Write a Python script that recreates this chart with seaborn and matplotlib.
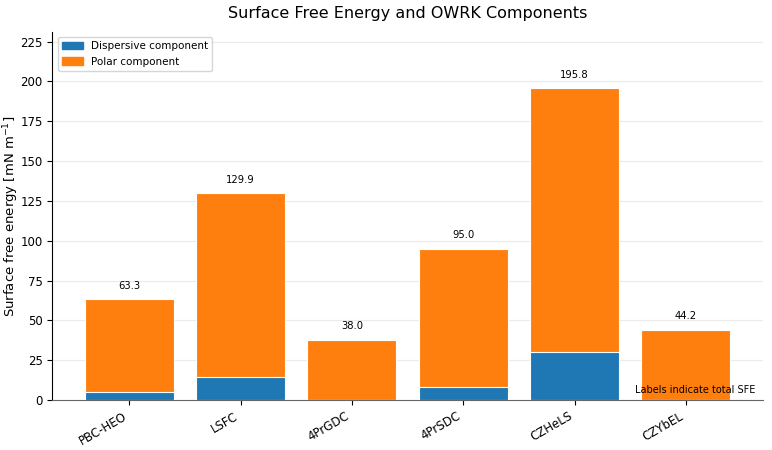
import matplotlib; matplotlib.use("Agg")
import numpy as np
import pandas as pd
import matplotlib.pyplot as plt
import seaborn as sns
from matplotlib.patches import Patch

materials = ["PBC-HEO", "LSFC", "4PrGDC", "4PrSDC", "CZHeLS", "CZYbEL"]
dispersive = [5.3, 14.3, 0.2, 8.5, 30.2, 0.2]
total = [63.3, 129.9, 38.0, 95.0, 195.8, 44.2]

df = pd.DataFrame({"material": materials, "dispersive": dispersive, "total": total})

fig, ax = plt.subplots(figsize=(7.72, 4.5), dpi=100)
blue, orange = "#1f77b4", "#ff7f0e"

# total bar (orange) underneath, dispersive (blue) over its base -> stacked look
sns.barplot(data=df, x="material", y="total", color=orange, saturation=1,
            width=0.8, edgecolor="white", linewidth=0.8, ax=ax, zorder=2)
sns.barplot(data=df, x="material", y="dispersive", color=blue, saturation=1,
            width=0.8, edgecolor="white", linewidth=0.8, ax=ax, zorder=3)

for i, t in enumerate(total):
    ax.annotate(f"{t:.1f}", (i, t), xytext=(0, 6), textcoords="offset points",
                ha="center", va="bottom", fontsize=7.2)

ax.set_ylim(0, max(total) * 1.18)
ax.set_yticks(np.arange(0, 226, 25))
ax.set_xlim(-0.69, 5.69)
ax.set_xlabel("")
ax.set_ylabel("Surface free energy [mN m$^{-1}$]", fontsize=9.5)
ax.yaxis.set_label_coords(-0.045, 0.5)
ax.set_title("Surface Free Energy and OWRK Components", fontsize=11.5, pad=10)
ax.tick_params(labelsize=8.5, length=3.5)
ax.yaxis.grid(True, color="#ebebeb", lw=0.8, zorder=0)
ax.set_axisbelow(True)
plt.setp(ax.get_xticklabels(), rotation=30, ha="right")
sns.despine(ax=ax)
ax.spines["bottom"].set_color("#666666")
ax.legend(handles=[Patch(color=blue, label="Dispersive component"),
                   Patch(color=orange, label="Polar component")],
          loc="upper left", fontsize=7.5)
ax.text(0.99, 0.015, "Labels indicate total SFE", transform=ax.transAxes,
        ha="right", va="bottom", fontsize=7)

fig.subplots_adjust(left=0.068, right=0.988, top=0.929, bottom=0.111)
fig.savefig("out.png", dpi=100)
